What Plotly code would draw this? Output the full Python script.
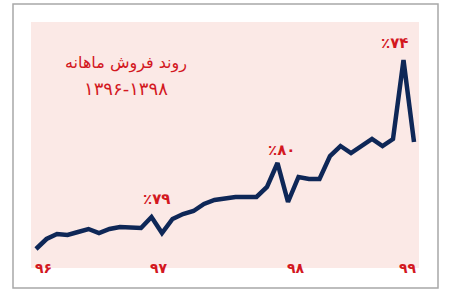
import plotly.graph_objects as go

# monthly sales index (month 0 = start of 96 ... month 36 = start of 99)
months = list(range(37))
sales = [19, 29, 34, 33, 36, 39, 35, 39, 41, 41, 40, 51, 35, 49, 54, 57, 64, 68,
         70, 71, 71, 71, 81, 105, 66, 91, 89, 89, 112, 122, 115, 122, 129, 122,
         129, 208, 126]

year_ticks = [0, 12, 24, 36]
year_labels = ["۹۶", "۹۷", "۹۸", "۹۹"]

peak_months = [11, 23, 35]
peak_labels = ["٪۷۹", "٪۸۰", "٪۷۴"]

title_lines = ["روند فروش ماهانه", "۱۳۹۶-۱۳۹۸"]

RED = "#d3181f"
NAVY = "#0e2757"
PINK = "#fbe9e6"
FONT = "DejaVu Sans"

W, H = 452, 299
L, R, T, B = 31, 33, 22, 31
pw, ph = W - L - R, H - T - B

fig = go.Figure()
fig.add_trace(go.Scatter(x=months, y=sales, mode="lines",
                         line=dict(color=NAVY, width=4.5), hoverinfo="skip"))

annotations = []
label_shift = [7, -3, 8, -6]
for xv, t, s in zip(year_ticks, year_labels, label_shift):
    annotations.append(dict(x=xv, y=0.002, xref="x", yref="paper", text=t,
                            showarrow=False, xshift=s, yanchor="middle",
                            font=dict(family=FONT, size=14, color=RED, weight="bold")))
peak_shift = [(5, 18), (4, 13), (-9, 17)]
for m, t, (sx, sy) in zip(peak_months, peak_labels, peak_shift):
    annotations.append(dict(x=months[m], y=sales[m], xref="x", yref="y", text=t,
                            showarrow=False, yshift=sy, xshift=sx, yanchor="middle",
                            font=dict(family=FONT, size=15, color=RED, weight="bold")))

# title block placed by pixel centre
for text, (px, py), size in zip(title_lines, [(126, 63), (126, 88)], [16, 18]):
    annotations.append(dict(x=(px - L) / pw, y=(H - B - py) / ph, xref="paper",
                            yref="paper", text=text, showarrow=False,
                            xanchor="center", yanchor="middle",
                            font=dict(family=FONT, size=size, color=RED)))

fig.update_layout(
    width=W, height=H,
    margin=dict(l=L, r=R, t=T, b=B),
    paper_bgcolor="white",
    plot_bgcolor=PINK,
    showlegend=False,
    xaxis=dict(range=[-0.476, 36.476], showgrid=False, zeroline=False,
               showticklabels=False, showline=False, fixedrange=True),
    yaxis=dict(range=[0, 246], showgrid=False, zeroline=False,
               showticklabels=False, showline=False, fixedrange=True),
    annotations=annotations,
    shapes=[dict(type="rect", xref="paper", yref="paper",
                 x0=(13 - L) / pw, x1=(438 - L) / pw,
                 y0=(H - B - 288) / ph, y1=(H - B - 4) / ph,
                 line=dict(color="#a8a8a8", width=1.5), fillcolor="rgba(0,0,0,0)",
                 layer="below")],
)

fig.write_html("out.html")
